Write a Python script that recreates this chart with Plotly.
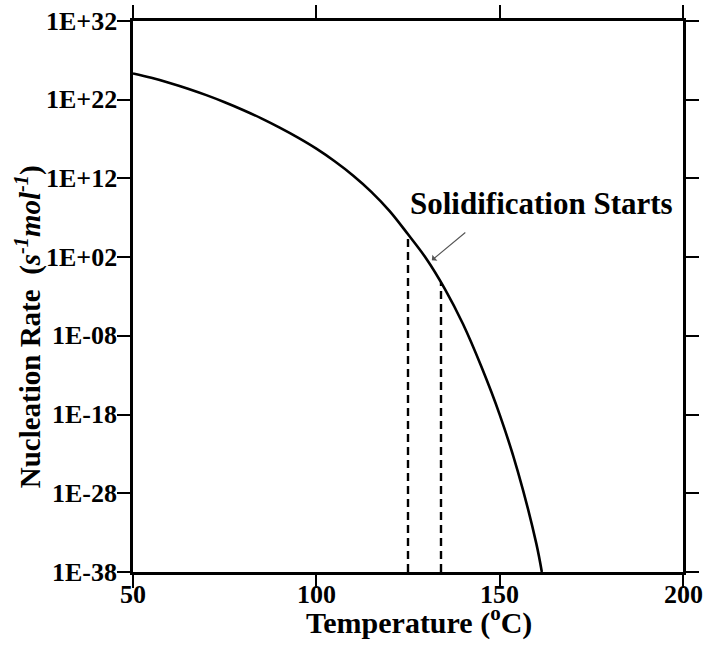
import numpy as np
import plotly.graph_objects as go

# Nucleation rate curve: temperature (°C) and log10 of the rate (s^-1 mol^-1)
temperature = [50, 55, 60, 65, 70, 75, 80, 85, 90, 95, 100, 105, 110, 115, 120,
               125, 130, 135, 140, 145, 150, 155, 160, 161.5]
log_rate = [25.33, 24.78, 24.13, 23.40, 22.58, 21.68, 20.70, 19.63, 18.45, 17.18, 15.78,
            14.18, 12.38, 10.30, 7.85, 4.90, 1.80, -2.00, -6.50, -11.90, -18.00, -25.30,
            -34.40, -38.00]

# Temperatures bracketing the onset of solidification
marker_temps = [125, 134]

# Axis ticks
x_ticks = [50, 100, 150, 200]
y_tick_exponents = [-38, -28, -18, -8, 2, 12, 22, 32]
y_tick_labels = ["1E-38", "1E-28", "1E-18", "1E-08", "1E+02", "1E+12", "1E+22", "1E+32"]

rate = [10.0 ** v for v in log_rate]
serif = "Liberation Serif, Times New Roman, serif"
tick_font = dict(family=serif, size=26, color="black")

fig = go.Figure()

fig.add_trace(go.Scatter(
    x=temperature, y=rate, mode="lines",
    line=dict(color="black", width=2.6, shape="spline", smoothing=1.0),
    showlegend=False, hoverinfo="skip",
))

for t in marker_temps:
    top = 10.0 ** float(np.interp(t, temperature, log_rate))
    fig.add_trace(go.Scatter(
        x=[t, t], y=[10.0 ** y_tick_exponents[0], top], mode="lines",
        line=dict(color="black", width=2.4, dash="8px,5px"),
        showlegend=False, hoverinfo="skip",
    ))

axis_common = dict(
    showline=True, linecolor="black", linewidth=3, mirror="allticks",
    ticks="outside", ticklen=13, tickwidth=2, tickcolor="black",
    showgrid=False, zeroline=False, automargin=False, showticklabels=False,
)

fig.update_xaxes(range=[50, 200], tickvals=x_ticks, **axis_common)
fig.update_yaxes(
    type="log", range=[-38, 32],
    tickvals=[10.0 ** e for e in y_tick_exponents], **axis_common,
)

# Tick labels set close to the tick marks
for v in x_ticks:
    fig.add_annotation(
        x=v, xref="x", y=-0.012, yref="paper", xanchor="center", yanchor="top",
        text=f"<b>{v}</b>", showarrow=False, font=tick_font, borderpad=0,
    )
for e, lab in zip(y_tick_exponents, y_tick_labels):
    fig.add_annotation(
        x=-0.026, xref="paper", y=e, yref="y", xanchor="right", yanchor="middle",
        text=f"<b>{lab}</b>", showarrow=False, font=tick_font,
    )

fig.add_annotation(
    x=0.52, xref="paper", y=-0.088, yref="paper", yanchor="middle", xanchor="center",
    text="<b>Temperature (<sup>o</sup>C)</b>", showarrow=False,
    font=dict(family=serif, size=30, color="black"), borderpad=0,
)
fig.add_annotation(
    x=-0.19, xref="paper", y=0.445, yref="paper", xanchor="center", yanchor="middle",
    text="<b>Nucleation Rate  (<i>s<sup>-1</sup>mol<sup>-1</sup></i>)</b>",
    textangle=-90, showarrow=False,
    font=dict(family=serif, size=29, color="black"),
)
fig.add_annotation(
    x=161.5, y=8.8, xref="x", yref="y", xanchor="center", yanchor="middle",
    text="<b>Solidification Starts</b>", showarrow=False,
    font=dict(family=serif, size=31, color="black"),
)

# Pointer from the label to the curve
fig.add_annotation(
    x=131.5, y=1.6, xref="x", yref="y", text="",
    showarrow=True, arrowhead=1, arrowsize=1.2, arrowwidth=1.1, arrowcolor="#555555",
    ax=35, ay=-29,
)

fig.update_layout(
    width=704, height=646,
    margin=dict(l=133, r=21, t=21, b=74),
    plot_bgcolor="white", paper_bgcolor="white",
    font=dict(family=serif, color="black"),
)

fig.write_html("out.html")
